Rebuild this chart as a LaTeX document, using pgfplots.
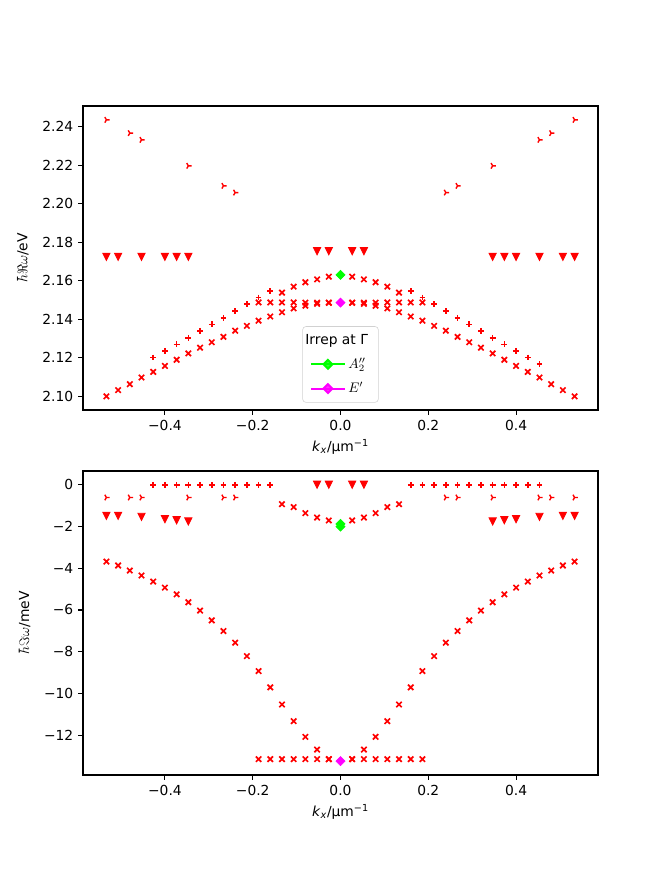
\documentclass[border=0pt]{standalone}
\usepackage{fontspec}
\setmainfont{DejaVu Sans}
\usepackage{pgfplots}
\pgfplotsset{compat=1.18}

\definecolor{mplred}{RGB}{255,0,0}
\definecolor{mplgreen}{RGB}{0,255,0}
\definecolor{mplmag}{RGB}{255,0,255}

\pgfdeclareplotmark{mplv}{%
  \pgfpathmoveto{\pgfqpoint{0pt}{-\pgfplotmarksize}}%
  \pgfpathlineto{\pgfqpoint{-\pgfplotmarksize}{\pgfplotmarksize}}%
  \pgfpathlineto{\pgfqpoint{\pgfplotmarksize}{\pgfplotmarksize}}%
  \pgfpathclose\pgfusepathqfillstroke}

\pgfplotsset{
  mplax/.style={
    scale only axis, width=370.8bp, height=218.88bp,
    xmin=-0.58667, xmax=0.58667,
    axis line style={line width=0.8bp},
    tick align=outside, major tick length=3.5bp,
    tick style={line width=0.8bp, black},
    tick pos=left,
    xtick={-0.4,-0.2,0,0.2,0.4},
    xticklabels={−0.4,−0.2,0.0,0.2,0.4},
    ticklabel style={font=\fontsize{10}{12}\selectfont},
    label style={font=\fontsize{10}{12}\selectfont},
    ylabel style={yshift=3bp},
    xlabel={\textit{k}\textsubscript{\textit{x}}/μm\textsuperscript{−1}},
    clip=false,
  },
  pX/.style={only marks, mark=x, mark size=2.75bp, color=mplred, mark options={draw=mplred, line width=1.2bp}},
  pP/.style={only marks, mark=+, mark size=2.1bp, color=mplred, mark options={draw=mplred, line width=1.15bp}},
  pV/.style={only marks, mark=mplv, mark size=2.6bp, color=mplred, mark options={draw=mplred, fill=mplred, line width=0.6bp}},
  pT/.style={only marks, mark=Mercedes star, mark size=2.3bp, color=mplred, mark options={draw=mplred, line width=1bp, rotate=-90}},
  pDg/.style={only marks, mark=square*, mark size=2.3bp, color=mplgreen, mark options={draw=mplgreen, fill=mplgreen, rotate=45, line width=0.5bp}},
  pDm/.style={only marks, mark=square*, mark size=2.3bp, color=mplmag, mark options={draw=mplmag, fill=mplmag, rotate=45, line width=0.5bp}},
}

\begin{document}
\begin{tikzpicture}
\path[use as bounding box] (0,0) rectangle (478.08bp,637.92bp);

% ---------------- top panel: real part ----------------
\begin{axis}[mplax,
  at={(59.76bp,342.72bp)}, anchor=south west,
  ymin=2.0928, ymax=2.2508,
  ytick={2.10,2.12,2.14,2.16,2.18,2.20,2.22,2.24},
  yticklabels={2.10,2.12,2.14,2.16,2.18,2.20,2.22,2.24},
  ylabel={$\hbar\Re\omega$/eV},
  legend style={at={(0.5,0.024)}, anchor=south, draw=black!18, rounded corners=2.5bp,
    fill=white, fill opacity=0.8, text opacity=1, draw opacity=1,
    font=\fontsize{10}{12}\selectfont, cells={anchor=west},
    inner xsep=5.5bp, inner ysep=3.5bp, row sep=4.5bp},
  legend image code/.code={\draw[mark repeat=2,mark phase=2,#1] plot coordinates {(0bp,0bp) (12bp,0bp) (24bp,0bp)};},
]
\addlegendimage{empty legend}
\addlegendentry{\hspace{-31bp}Irrep at Γ}
\addlegendimage{mplgreen, line width=1.5bp, mark=square*, mark size=2.2bp, mark options={rotate=45}}
\addlegendentry{$A_2''$}
\addlegendimage{mplmag, line width=1.5bp, mark=square*, mark size=2.2bp, mark options={rotate=45}}
\addlegendentry{$E'$}

\addplot[pT, forget plot] coordinates {
(-0.53333,2.2436) (-0.48,2.2367) (-0.45333,2.2332) (-0.34667,2.2197) (-0.26667,2.2093) (-0.24,2.2058)
(0.24,2.2058) (0.26667,2.2093) (0.34667,2.2197) (0.45333,2.2332) (0.48,2.2367) (0.53333,2.2436)};

\addplot[pV, forget plot] coordinates {
(-0.53333,2.1724) (-0.50667,2.1724) (-0.45333,2.1724) (-0.4,2.1724) (-0.37333,2.1724) (-0.34667,2.1724)
(-0.05333,2.1753) (-0.02667,2.1753) (0.02667,2.1753) (0.05333,2.1753)
(0.34667,2.1724) (0.37333,2.1724) (0.4,2.1724) (0.45333,2.1724) (0.50667,2.1724) (0.53333,2.1724)};

% lower band
\addplot[pX, forget plot] coordinates {
(-0.53333,2.0999) (-0.50667,2.1031) (-0.48,2.1062) (-0.45333,2.1097) (-0.42667,2.1126)
(-0.4,2.1157) (-0.37333,2.1189) (-0.34667,2.1222) (-0.32,2.1252) (-0.29333,2.1280)
(-0.26667,2.1308) (-0.24,2.1340) (-0.21333,2.1365) (-0.18667,2.1392) (-0.16,2.1414)
(-0.13333,2.1436) (-0.10667,2.1456) (-0.08,2.1470) (-0.05333,2.1480) (-0.02667,2.1485)
(0.02667,2.1485) (0.05333,2.1480) (0.08,2.1470) (0.10667,2.1456) (0.13333,2.1436)
(0.16,2.1414) (0.18667,2.1392) (0.21333,2.1365) (0.24,2.1340) (0.26667,2.1308)
(0.29333,2.1280) (0.32,2.1252) (0.34667,2.1222) (0.37333,2.1189) (0.4,2.1157)
(0.42667,2.1126) (0.45333,2.1097) (0.48,2.1062) (0.50667,2.1031) (0.53333,2.0999)};
% flat band
\addplot[pX, forget plot] coordinates {
(-0.18667,2.1487) (-0.16,2.1487) (-0.13333,2.1487) (-0.10667,2.1487) (-0.08,2.1486) (-0.05333,2.1486) (-0.02667,2.1486)
(0.02667,2.1486) (0.05333,2.1486) (0.08,2.1486) (0.10667,2.1487) (0.13333,2.1487) (0.16,2.1487) (0.18667,2.1487)};
% upper band near Gamma
\addplot[pX, forget plot] coordinates {
(-0.13333,2.1538) (-0.10667,2.1569) (-0.08,2.1592) (-0.05333,2.1607) (-0.02667,2.1621)
(0.02667,2.1621) (0.05333,2.1607) (0.08,2.1592) (0.10667,2.1569) (0.13333,2.1538)};

\addplot[pP, forget plot] coordinates {
(-0.42667,2.1201) (-0.4,2.1236) (-0.37333,2.1269) (-0.34667,2.1303) (-0.32,2.1340) (-0.29333,2.1373)
(-0.26667,2.1407) (-0.24,2.1442) (-0.21333,2.1478) (-0.18667,2.1513) (-0.16,2.1546)
(0.16,2.1546) (0.18667,2.1513) (0.21333,2.1478) (0.24,2.1442) (0.26667,2.1407) (0.29333,2.1373)
(0.32,2.1340) (0.34667,2.1303) (0.37333,2.1269) (0.4,2.1236) (0.42667,2.1201) (0.45333,2.1166)};

\addplot[pDg, forget plot] coordinates {(0,2.1630)};
\addplot[pDm, forget plot] coordinates {(0,2.1486)};
\end{axis}

% ---------------- bottom panel: imaginary part ----------------
\begin{axis}[mplax,
  at={(59.76bp,79.92bp)}, anchor=south west,
  ymin=-13.91, ymax=0.66,
  ytick={-12,-10,-8,-6,-4,-2,0},
  yticklabels={−12,−10,−8,−6,−4,−2,0},
  ylabel={$\hbar\Im\omega$/meV},
]
\addplot[pT] coordinates {
(-0.53333,-0.61) (-0.48,-0.61) (-0.45333,-0.61) (-0.34667,-0.61) (-0.26667,-0.61) (-0.24,-0.61)
(0.24,-0.61) (0.26667,-0.61) (0.34667,-0.61) (0.45333,-0.61) (0.48,-0.61) (0.53333,-0.61)};

\addplot[pV] coordinates {
(-0.53333,-1.49) (-0.50667,-1.49) (-0.45333,-1.54) (-0.4,-1.65) (-0.37333,-1.70) (-0.34667,-1.76)
(-0.05333,0) (-0.02667,0) (0.02667,0) (0.05333,0)
(0.34667,-1.76) (0.37333,-1.70) (0.4,-1.65) (0.45333,-1.54) (0.50667,-1.49) (0.53333,-1.49)};

% descending band
\addplot[pX] coordinates {
(-0.53333,-3.68) (-0.50667,-3.87) (-0.48,-4.11) (-0.45333,-4.35) (-0.42667,-4.64)
(-0.4,-4.93) (-0.37333,-5.25) (-0.34667,-5.63) (-0.32,-6.03) (-0.29333,-6.50)
(-0.26667,-7.01) (-0.24,-7.57) (-0.21333,-8.21) (-0.18667,-8.93) (-0.16,-9.71)
(-0.13333,-10.53) (-0.10667,-11.33) (-0.08,-12.08) (-0.05333,-12.69) (-0.02667,-13.15)
(0.02667,-13.15) (0.05333,-12.69) (0.08,-12.08) (0.10667,-11.33) (0.13333,-10.53)
(0.16,-9.71) (0.18667,-8.93) (0.21333,-8.21) (0.24,-7.57) (0.26667,-7.01)
(0.29333,-6.50) (0.32,-6.03) (0.34667,-5.63) (0.37333,-5.25) (0.4,-4.93)
(0.42667,-4.64) (0.45333,-4.35) (0.48,-4.11) (0.50667,-3.87) (0.53333,-3.68)};
% flat band
\addplot[pX] coordinates {
(-0.18667,-13.15) (-0.16,-13.15) (-0.13333,-13.15) (-0.10667,-13.15) (-0.08,-13.15) (-0.05333,-13.15) (-0.02667,-13.15)
(0.02667,-13.15) (0.05333,-13.15) (0.08,-13.15) (0.10667,-13.15) (0.13333,-13.15) (0.16,-13.15) (0.18667,-13.15)};
% upper band near Gamma
\addplot[pX] coordinates {
(-0.13333,-0.93) (-0.10667,-1.07) (-0.08,-1.36) (-0.05333,-1.57) (-0.02667,-1.71)
(0.02667,-1.71) (0.05333,-1.57) (0.08,-1.36) (0.10667,-1.07) (0.13333,-0.93)};

\addplot[pP] coordinates {
(-0.42667,0) (-0.4,0) (-0.37333,0) (-0.34667,0) (-0.32,0) (-0.29333,0)
(-0.26667,0) (-0.24,0) (-0.21333,0) (-0.18667,0) (-0.16,0)
(0.16,0) (0.18667,0) (0.21333,0) (0.24,0) (0.26667,0) (0.29333,0)
(0.32,0) (0.34667,0) (0.37333,0) (0.4,0) (0.42667,0) (0.45333,0)};

\addplot[pDg] coordinates {(0,-1.88) (0,-2.01)};
\addplot[pDm] coordinates {(0,-13.25)};
\end{axis}
\end{tikzpicture}
\end{document}
